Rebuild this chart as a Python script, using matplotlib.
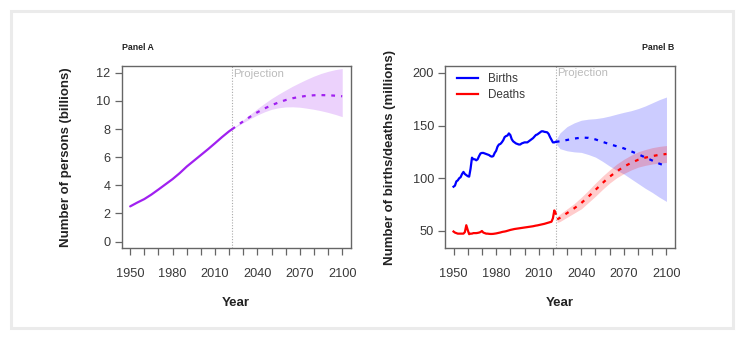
import matplotlib
matplotlib.use("Agg")
import matplotlib.pyplot as plt
from matplotlib.patches import Rectangle
import numpy as np

plt.rcParams['font.family'] = ['Liberation Sans', 'DejaVu Sans']

# ---- Panel A: world population (billions) ----
pop_years = [1950, 1955, 1960, 1965, 1970, 1975, 1980, 1985, 1990, 1995,
             2000, 2005, 2010, 2015, 2020, 2022]
pop_values = [2.50, 2.77, 3.02, 3.34, 3.70, 4.07, 4.44, 4.86, 5.33, 5.74,
              6.15, 6.56, 6.99, 7.43, 7.84, 7.98]

proj_years = [2022, 2025, 2030, 2035, 2040, 2045, 2050, 2055, 2060, 2065,
              2070, 2075, 2080, 2085, 2090, 2095, 2100]
pop_median = [7.98, 8.20, 8.55, 8.88, 9.19, 9.46, 9.69, 9.89, 10.06, 10.19,
              10.29, 10.36, 10.40, 10.41, 10.40, 10.37, 10.33]
pop_upper = [8.00, 8.24, 8.65, 9.05, 9.45, 9.82, 10.17, 10.48, 10.77, 11.05,
             11.30, 11.54, 11.76, 11.95, 12.10, 12.22, 12.30]
pop_lower = [7.96, 8.16, 8.45, 8.74, 9.00, 9.22, 9.40, 9.51, 9.57, 9.58,
             9.55, 9.48, 9.40, 9.30, 9.18, 9.04, 8.88]

# ---- Panel B: births and deaths (millions) ----
obs_years = list(range(1950, 2023))
births = [92, 93, 97, 98, 100, 101, 104, 106, 104, 103,
          102, 101.5, 109, 119.5, 118, 118, 117, 118, 121, 123.5,
          124, 124, 123.5, 123, 122.5, 122, 121, 120.5, 121, 124,
          126, 130, 132, 132.5, 134, 136, 139, 140, 140.5, 142.5,
          141, 137, 135, 134, 133, 132.5, 132, 132, 133, 133.5,
          134, 134, 134, 135, 136, 137, 138, 139.5, 141, 141.5,
          142.5, 143.5, 144.5, 144.5, 144, 143.8, 143.5, 142, 139, 136.5,
          134, 134, 134.5]
deaths = [49.5, 48.5, 48, 47.5, 47.5, 47.5, 47.5, 47.5, 49, 55.5,
          51, 47, 47.5, 47.5, 48, 48, 48, 48.2, 48.5, 49,
          50, 48.5, 48, 47.5, 47.5, 47.3, 47.2, 47.2, 47.3, 47.5,
          47.7, 48, 48.3, 48.6, 49, 49.3, 49.5, 49.8, 50.2, 50.6,
          51, 51.3, 51.6, 51.9, 52.1, 52.3, 52.5, 52.7, 52.9, 53.1,
          53.3, 53.5, 53.7, 53.9, 54.1, 54.3, 54.5, 54.8, 55.1, 55.3,
          55.6, 55.9, 56.2, 56.5, 56.8, 57.2, 57.6, 58, 58.4, 58.8,
          62, 69.5, 66.5]

birth_median = [134.5, 135, 136.3, 137.6, 138.5, 138.3, 136.8, 134.5, 132.3, 130.3,
                128.3, 125.6, 122.8, 119.8, 116.8, 113.8, 111.5]
birth_upper = [136, 143, 149, 152.5, 155, 156, 156.5, 157.5, 159, 160.8,
               162.5, 164, 166, 168.5, 171.5, 174.5, 177]
birth_lower = [133, 128, 126, 125, 124.5, 122.5, 120, 116, 111.5, 107.5,
               104, 99.5, 95, 90.5, 86.5, 82, 78]

death_years = [2023, 2025, 2030, 2035, 2040, 2045, 2050, 2055, 2060, 2065,
               2070, 2075, 2080, 2085, 2090, 2095, 2100]
death_median = [61, 62.5, 67, 71.5, 76.5, 82.5, 89, 95.5, 101.5, 106.5,
                111, 114.5, 117.5, 119.5, 121, 122.2, 123]
death_upper = [64, 66, 71, 76, 82, 88.5, 95.5, 102, 108, 113.5,
               118, 121.8, 125, 127.2, 129, 130.2, 131]
death_lower = [58, 59, 63, 67, 71, 77, 83, 89.5, 95.5, 100.5,
               104.5, 107.8, 110.5, 112.2, 113.5, 114.4, 115]

base_year = 2022
xtick_major = list(range(1950, 2101, 10))
xtick_labels = [str(y) if (y - 1950) % 30 == 0 else "" for y in xtick_major]

W, H = 741, 337
fig = plt.figure(figsize=(W / 100, H / 100), dpi=100)
fig.patch.set_facecolor("white")

# light frame around the figure
fig.add_artist(Rectangle((10.5 / W, 1 - 328 / H), (733 - 10.5) / W, (328 - 10.5) / H,
                         transform=fig.transFigure, fill=False,
                         ec="#ebebeb", lw=2.2))

box_col = "#666666"
tick_col = "#383838"
dash = (0, (1.7, 2.7))


def style_axes(ax, yticks):
    for s in ax.spines.values():
        s.set_color(box_col)
        s.set_linewidth(1.0)
    ax.set_xlim(1944, 2106)
    ax.set_xticks(xtick_major)
    ax.set_xticklabels(xtick_labels)
    ax.set_yticks(yticks)
    ax.tick_params(axis="x", direction="out", length=5, width=0.9, color=box_col,
                   labelsize=9.2, labelcolor=tick_col, pad=9)
    ax.tick_params(axis="y", direction="out", length=5, width=0.9, color=box_col,
                   labelsize=9.2, labelcolor=tick_col, pad=3)
    ax.axvline(base_year, color="#aaaaaa", lw=0.8, ls=(0, (1, 1.5)), zorder=1)


def px_box(left, right, top, bottom):
    return [left / W, 1 - bottom / H, (right - left) / W, (bottom - top) / H]


# Panel A
axA = fig.add_axes(px_box(121.7, 350.7, 66, 248.3))
purple = "#A020F0"
axA.fill_between(proj_years, pop_lower, pop_upper, color=purple, alpha=0.2, lw=0)
axA.plot(pop_years, pop_values, color=purple, lw=1.6, solid_capstyle="round")
axA.plot(proj_years, pop_median, color=purple, lw=1.6, ls=dash, dash_capstyle="butt")
axA.set_ylim(-0.48, 12.48)
style_axes(axA, [0, 2, 4, 6, 8, 10, 12])
axA.text(base_year + 0.8, 12.3, "Projection", color="#bbbbbb", fontsize=8.2,
         ha="left", va="top")

# Panel B
axB = fig.add_axes(px_box(445, 675, 66, 248.3))
axB.fill_between(proj_years, birth_lower, birth_upper, color="#0000FF", alpha=0.2, lw=0)
axB.fill_between(death_years, death_lower, death_upper, color="#FF0000", alpha=0.2, lw=0)
axB.plot(obs_years, births, color="#0000FF", lw=1.6, label="Births")
axB.plot(obs_years, deaths, color="#FF0000", lw=1.6, label="Deaths")
axB.plot(proj_years, birth_median, color="#0000FF", lw=1.6, ls=dash)
axB.plot(death_years, death_median, color="#FF0000", lw=1.6, ls=dash)
axB.set_ylim(33.6, 206.4)
style_axes(axB, [50, 100, 150, 200])
axB.text(base_year + 0.8, 204.6, "Projection", color="#bbbbbb", fontsize=8.2,
         ha="left", va="top")
leg = axB.legend(loc="upper left", frameon=False, fontsize=8.4, handlelength=1.85,
                 handletextpad=0.85, labelspacing=0.3, borderaxespad=0.0,
                 bbox_to_anchor=(0.03, 0.985))
for t in leg.get_texts():
    t.set_color(tick_col)

# titles and axis labels
fig.text(122 / W, 1 - 47.7 / H, "Panel A", fontsize=6.3, fontweight="bold",
         color="#222222", ha="left", va="center")
fig.text(674 / W, 1 - 47.7 / H, "Panel B", fontsize=6.3, fontweight="bold",
         color="#222222", ha="right", va="center")
ymid = 1 - (66 + 248.3) / 2 / H
fig.text(65.7 / W, ymid, "Number of persons (billions)", rotation=90, fontsize=9.5,
         fontweight="bold", color="#222222", ha="center", va="center")
fig.text(390 / W, ymid, "Number of births/deaths (millions)", rotation=90, fontsize=9.5,
         fontweight="bold", color="#222222", ha="center", va="center")
fig.text((121.7 + 350.7) / 2 / W, 1 - 303 / H, "Year", fontsize=9.5,
         fontweight="bold", color="#222222", ha="center", va="center")
fig.text((445 + 675) / 2 / W, 1 - 303 / H, "Year", fontsize=9.5,
         fontweight="bold", color="#222222", ha="center", va="center")

fig.savefig("out.png", dpi=100, facecolor="white")
